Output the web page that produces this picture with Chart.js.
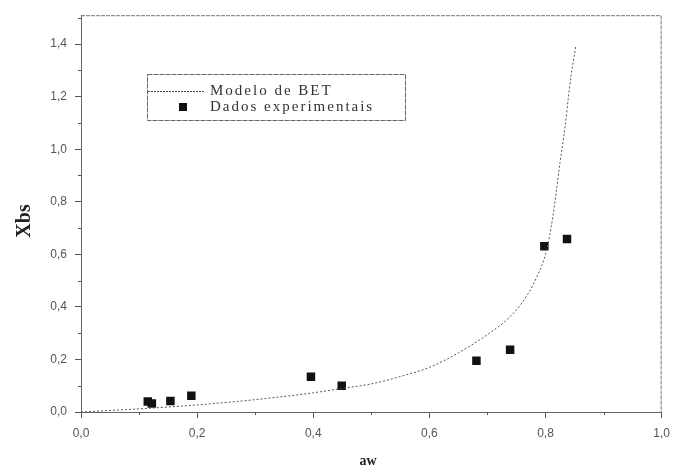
<!DOCTYPE html>
<html>
<head>
<meta charset="utf-8">
<script src="https://cdn.jsdelivr.net/npm/chart.js@4"></script>
<style>
  html, body { margin: 0; padding: 0; background: #fff; }
  #wrap { width: 678px; height: 471px; }
</style>
</head>
<body>
<div id="wrap"><canvas id="grafik" width="678" height="471"></canvas></div>
<script>
// dados experimentais
const awData = [0.115, 0.122, 0.154, 0.19, 0.396, 0.449, 0.681, 0.739, 0.798, 0.837];
const xbsData = [0.04, 0.032, 0.042, 0.062, 0.134, 0.1, 0.195, 0.237, 0.631, 0.658];

// curva do modelo de BET
const betAw = [0, 0.1, 0.2, 0.3, 0.4, 0.45, 0.5, 0.55, 0.6, 0.65, 0.7, 0.74, 0.77, 0.785, 0.8, 0.81, 0.818, 0.825, 0.834, 0.839, 0.844, 0.852];
const betXbs = [0, 0.012, 0.027, 0.047, 0.073, 0.09, 0.107, 0.135, 0.17, 0.225, 0.295, 0.365, 0.45, 0.515, 0.6, 0.707, 0.83, 0.95, 1.09, 1.19, 1.28, 1.39];

const xTicks = [0, 0.2, 0.4, 0.6, 0.8, 1.0];
const yTicks = [0, 0.2, 0.4, 0.6, 0.8, 1.0, 1.2, 1.4];
const xMinor = [0.1, 0.3, 0.5, 0.7, 0.9];
const yMinor = [0.1, 0.3, 0.5, 0.7, 0.9, 1.1, 1.3, 1.5];

const labelLinha = "Modelo de BET";
const labelPontos = "Dados experimentais";
const tituloX = "aw";
const tituloY = "Xbs";

const virgula = (v) => v.toFixed(1).replace(".", ",");
const cinza = "#555";

// moldura, ticks menores, titulos e legenda
const extras = {
  id: "extras",
  afterDraw(chart) {
    const { ctx, chartArea: a, scales } = chart;
    ctx.save();
    ctx.strokeStyle = "#777";
    ctx.lineWidth = 1;
    ctx.setLineDash([4, 1]);
    ctx.beginPath();
    ctx.moveTo(a.left, a.top + 0.5);
    ctx.lineTo(a.right - 0.5, a.top + 0.5);
    ctx.lineTo(a.right - 0.5, a.bottom);
    ctx.stroke();
    ctx.setLineDash([]);

    ctx.strokeStyle = cinza;
    ctx.beginPath();
    xMinor.forEach((v) => {
      const px = Math.round(scales.x.getPixelForValue(v)) + 0.5;
      ctx.moveTo(px, a.bottom);
      ctx.lineTo(px, a.bottom + 3);
    });
    yMinor.forEach((v) => {
      const py = Math.round(scales.y.getPixelForValue(v)) + 0.5;
      if (py < a.top) return;
      ctx.moveTo(a.left, py);
      ctx.lineTo(a.left - 3, py);
    });
    ctx.stroke();

    // titulos dos eixos
    ctx.fillStyle = "#222";
    ctx.font = "bold 20px 'Liberation Serif'";
    ctx.textAlign = "center";
    ctx.textBaseline = "middle";
    ctx.save();
    ctx.translate(25, 221);
    ctx.rotate(-Math.PI / 2);
    ctx.fillText(tituloY, 0, 0);
    ctx.restore();
    ctx.font = "bold 14px 'Liberation Serif'";
    ctx.fillText(tituloX, 368, 461);

    // legenda
    const lx = 147, ly = 74, lw = 258, lh = 46;
    ctx.strokeStyle = "#666";
    ctx.setLineDash([5, 1]);
    ctx.strokeRect(lx + 0.5, ly + 0.5, lw, lh);
    ctx.setLineDash([2, 1]);
    ctx.strokeStyle = "#444";
    ctx.beginPath();
    ctx.moveTo(lx + 1, ly + 17.5);
    ctx.lineTo(lx + 58, ly + 17.5);
    ctx.stroke();
    ctx.setLineDash([]);
    ctx.fillStyle = "#111";
    ctx.fillRect(lx + 32, ly + 29, 8, 8);
    ctx.fillStyle = "#333";
    ctx.font = "15px 'Liberation Serif'";
    ctx.textAlign = "left";
    ctx.letterSpacing = "2px";
    ctx.fillText(labelLinha, lx + 63, ly + 17);
    ctx.fillText(labelPontos, lx + 63, ly + 33);
    ctx.restore();
  },
};

new Chart(document.getElementById("grafik").getContext("2d"), {
  type: "scatter",
  data: {
    datasets: [
      {
        label: labelLinha,
        data: betAw.map((x, i) => ({ x, y: betXbs[i] })),
        showLine: true,
        borderColor: "#555",
        borderWidth: 1,
        borderDash: [2, 2],
        pointRadius: 0,
        cubicInterpolationMode: "monotone",
      },
      {
        label: labelPontos,
        data: awData.map((x, i) => ({ x, y: xbsData[i] })),
        pointStyle: "rect",
        pointRadius: 6,
        backgroundColor: "#111",
        borderColor: "#111",
        borderWidth: 0,
      },
    ],
  },
  options: {
    responsive: false,
    animation: false,
    layout: { padding: { top: 15, right: 13, left: 0, bottom: 0 } },
    plugins: { legend: { display: false }, tooltip: { enabled: false } },
    scales: {
      x: {
        type: "linear",
        min: 0,
        max: 1,
        afterFit: (s) => { s.height = 59; },
        afterBuildTicks: (s) => { s.ticks = xTicks.map((v) => ({ value: v })); },
        ticks: { callback: virgula, color: cinza, padding: 8, font: { family: "'Liberation Sans'", size: 12 }, maxRotation: 0 },
        grid: { drawOnChartArea: false, tickLength: 6, color: cinza },
        border: { color: "#666", dash: [4, 1] },
      },
      y: {
        type: "linear",
        min: 0,
        max: 1.51,
        afterFit: (s) => { s.width = 81; },
        afterBuildTicks: (s) => { s.ticks = yTicks.map((v) => ({ value: v })); },
        ticks: { callback: virgula, color: cinza, padding: 8, font: { family: "'Liberation Sans'", size: 12 } },
        grid: { drawOnChartArea: false, tickLength: 6, color: cinza },
        border: { color: "#666", dash: [4, 1] },
      },
    },
  },
  plugins: [extras],
});
</script>
</body>
</html>
